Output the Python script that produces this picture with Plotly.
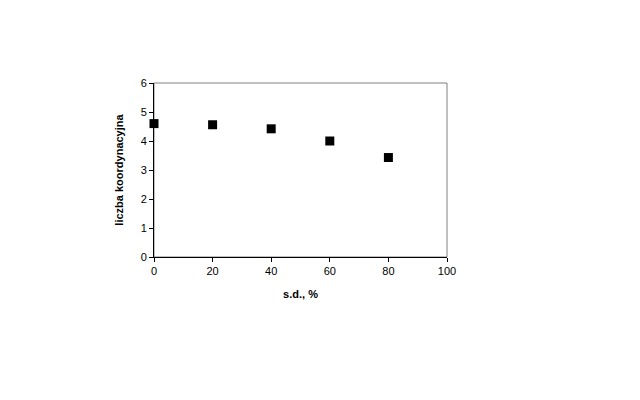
import plotly.graph_objects as go

sd_percent = [0, 20, 40, 60, 80]
coordination_number = [4.6, 4.56, 4.42, 4.0, 3.43]
x_ticks = [0, 20, 40, 60, 80, 100]
y_ticks = [0, 1, 2, 3, 4, 5, 6]

fig = go.Figure()
fig.add_trace(go.Scatter(
    x=sd_percent, y=coordination_number, mode="markers",
    marker=dict(symbol="square", size=9, color="black"),
    cliponaxis=False, showlegend=False,
))

font = dict(family="Liberation Sans, Arial, sans-serif", size=11, color="black")
fig.update_layout(
    width=640, height=400,
    margin=dict(l=146, r=201, t=75, b=151),
    paper_bgcolor="white", plot_bgcolor="white",
    font=font,
    shapes=[dict(type="rect", xref="paper", yref="paper", x0=0, y0=0, x1=1, y1=1,
                 line=dict(color="#808080", width=1), layer="below")],
)
fig.update_xaxes(
    range=[0, 100], tickvals=x_ticks, showgrid=False, zeroline=False,
    showline=True, linecolor="black", linewidth=1,
    ticks="outside", ticklen=4, tickcolor="black",
    title=dict(text="<b>s.d., %</b>", standoff=14, font=font),
)
fig.update_yaxes(
    range=[0, 6], tickvals=y_ticks, showgrid=False, zeroline=False,
    showline=True, linecolor="black", linewidth=1,
    ticks="outside", ticklen=4, tickcolor="black",
    title=dict(text="<b>liczba koordynacyjna</b>", standoff=14, font=font),
)
fig.write_html("out.html")
